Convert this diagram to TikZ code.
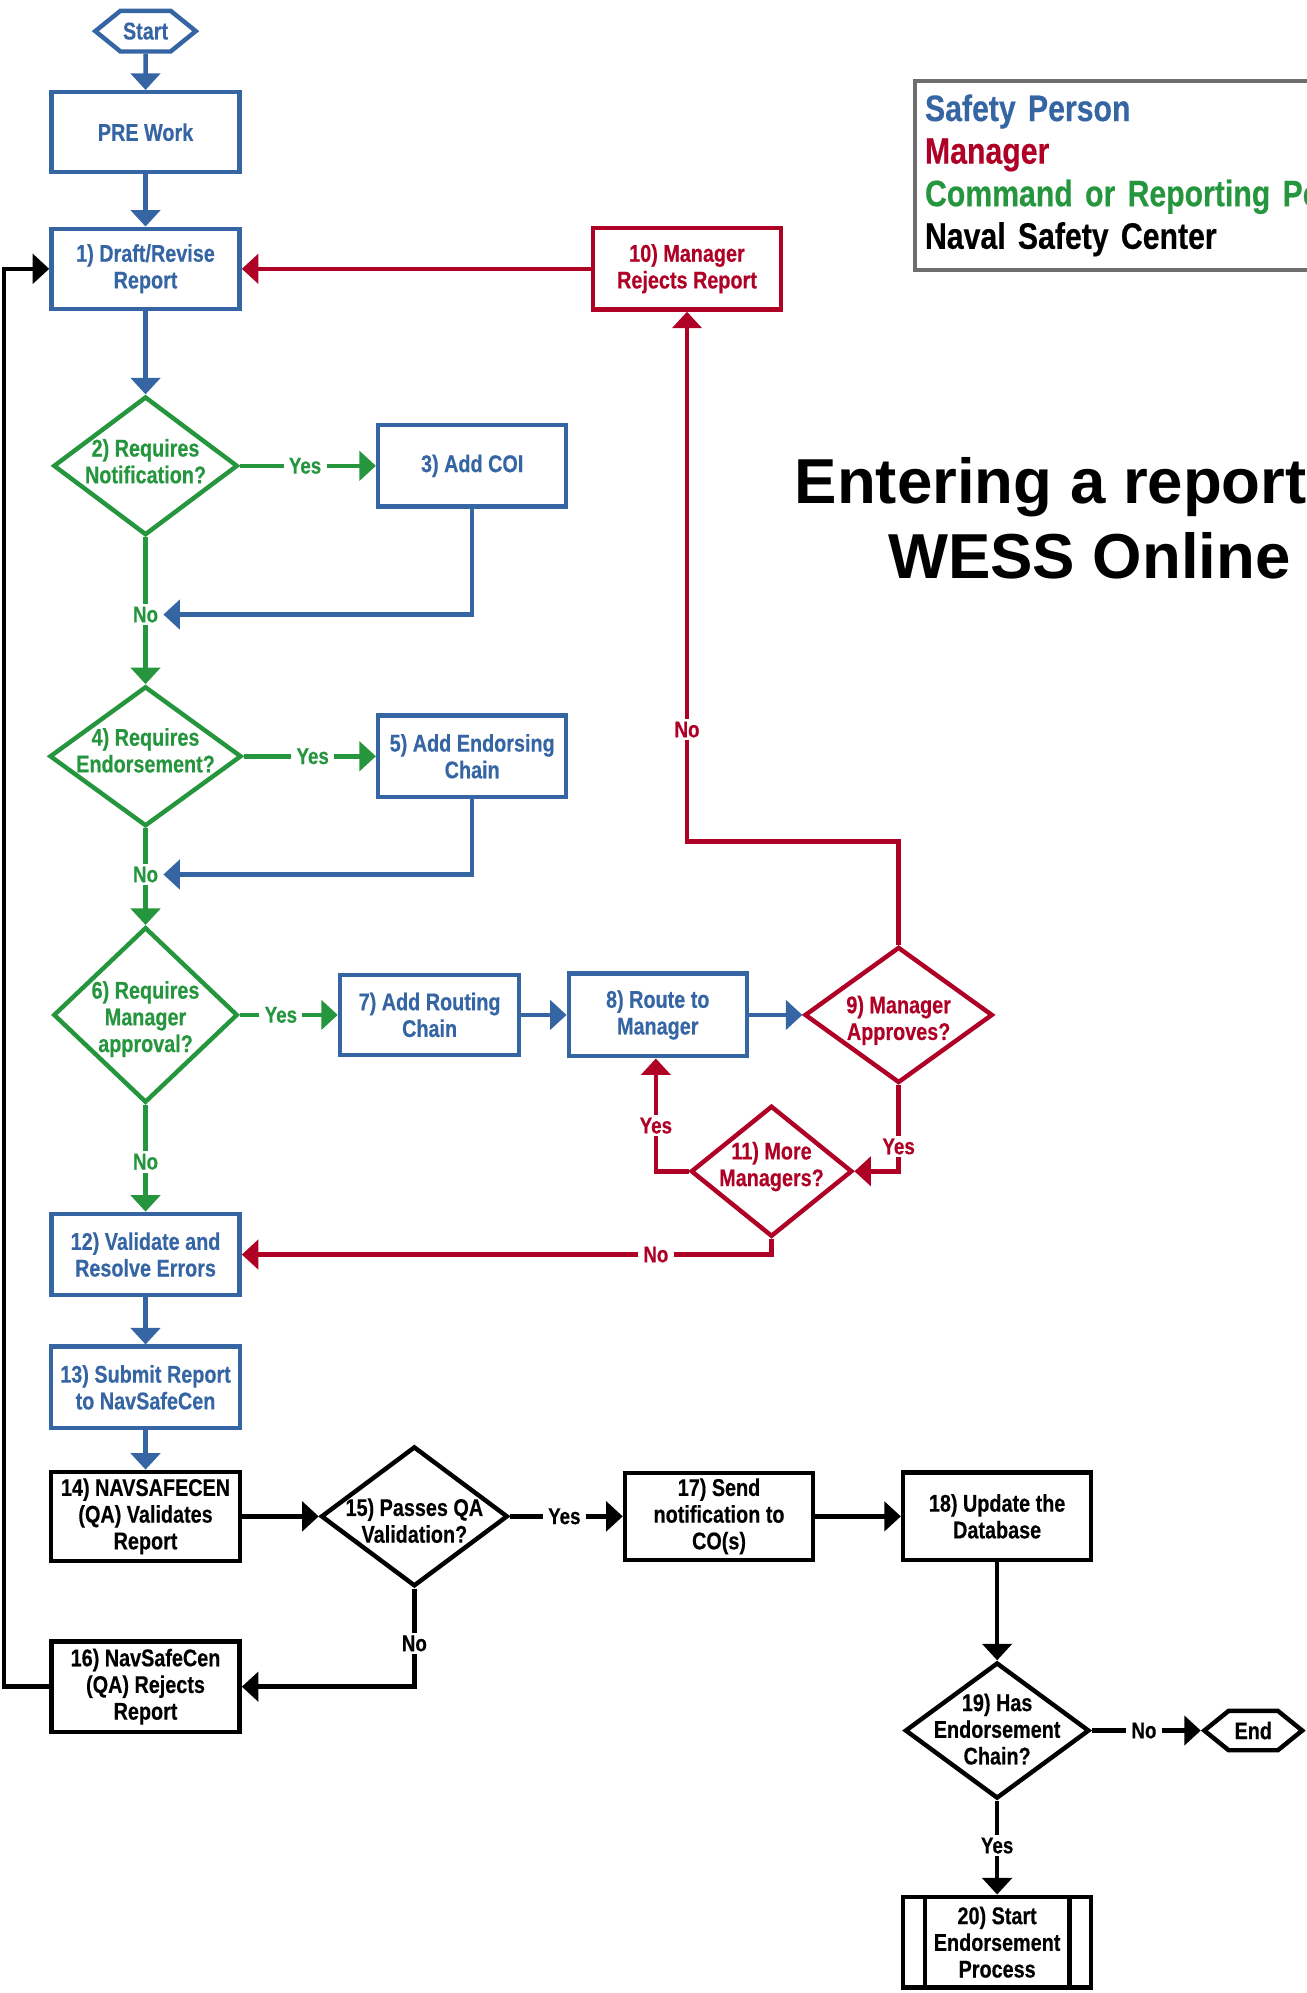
\documentclass[tikz,border=0pt]{standalone}
\usepackage{fontspec}
\setmainfont{Liberation Sans}
\newfontfamily\nf{Liberation Sans}[FakeStretch=0.82,FakeBold=0.4]
\usetikzlibrary{shapes.geometric,shapes.symbols,arrows.meta}
\definecolor{cblue}{RGB}{54,101,164}
\definecolor{cred}{RGB}{175,0,38}
\definecolor{cgreen}{RGB}{38,150,62}
\definecolor{cgray}{RGB}{110,110,110}
\newcommand{\dtxt}[2][0pt]{\makebox[0pt]{\raisebox{\dimexpr-7.3pt+#1\relax}[0pt][0pt]{\begin{tabular}{@{}c@{}}#2\end{tabular}}}}
\tikzset{
  basefont/.style={font=\nf\bfseries\fontsize{19}{21}\selectfont},
  box/.style={basefont, rectangle, draw, line width=3.5pt, align=center, inner sep=2pt, minimum width=148pt, minimum height=63pt},
  bbox/.style={box, draw=cblue, text=cblue},
  rbox/.style={box, draw=cred, text=cred},
  kbox/.style={box, draw=black, text=black},
  dia/.style={basefont, diamond, draw, line width=3.5pt, inner sep=0pt},
  gdia/.style={dia, draw=cgreen, text=cgreen},
  rdia/.style={dia, draw=cred, text=cred},
  kdia/.style={dia, draw=black, text=black},
  hexa/.style={basefont, shape=signal, signal to=west and east, signal pointer angle=78, draw, line width=3.5pt, inner sep=2pt},
  lbl/.style={font=\nf\bfseries\fontsize{18}{20}\selectfont, inner xsep=4pt, inner ysep=2pt},
  con/.style={line width=3.6pt},
  tip/.style={-{Triangle[width=23pt,length=13pt]}},
  bl/.style={con, draw=cblue},
  gl/.style={con, draw=cgreen},
  rl/.style={con, draw=cred},
  kl/.style={con, draw=black},
  bla/.style={bl, tip},
  gla/.style={gl, tip},
  rla/.style={rl, tip},
  kla/.style={kl, tip},
}
\begin{document}
\begin{tikzpicture}[x=1pt,y=-1pt]
\useasboundingbox (0,0) rectangle (1028,1568);

% ---- nodes ----
\node[hexa, draw=cblue, text=cblue, minimum width=78pt, minimum height=32pt] (start) at (114.5,24.5) {Start};
\node[bbox] (pre) at (114.5,104) {PRE Work};
\node[bbox] (b1) at (114.5,211.5) {1) Draft/Revise\\Report};
\node[gdia, minimum width=145pt, minimum height=109pt] (d2) at (114.5,366.5) {\dtxt[4pt]{2) Requires\\Notification?}};
\node[bbox, minimum height=64pt] (b3) at (371.5,366.5) {3) Add COI};
\node[lbl, text=cgreen] (y2) at (240,366.5) {Yes};
\node[lbl, text=cgreen] (no2) at (114.5,483.5) {No};
\node[gdia, minimum width=151pt, minimum height=110pt] (d4) at (114.5,595) {\dtxt[5pt]{4) Requires\\Endorsement?}};
\node[bbox, minimum height=64pt] (b5) at (371.5,595) {5) Add Endorsing\\Chain};
\node[lbl, text=cgreen] (y4) at (246,595) {Yes};
\node[lbl, text=cgreen] (no4) at (114.5,688) {No};
\node[gdia, minimum width=145pt, minimum height=138pt] (d6) at (114.5,798.5) {\dtxt[-1pt]{6) Requires\\Manager\\approval?}};
\node[lbl, text=cgreen] (y6) at (221,798.5) {Yes};
\node[bbox, minimum width=141pt] (b7) at (338,798.5) {7) Add Routing\\Chain};
\node[bbox, minimum width=140pt, minimum height=65pt] (b8) at (517.5,798.5) {8) Route to\\Manager};
\node[rdia, minimum width=148pt, minimum height=107pt] (d9) at (707,798.5) {\dtxt[-2pt]{9) Manager\\Approves?}};
\node[rbox, minimum height=64pt] (b10) at (540.5,211.5) {10) Manager\\Rejects Report};
\node[lbl, text=cred] (no9) at (540.5,574) {No};
\coordinate (r1) at (707,662);
\node[lbl, text=cred] (y9) at (707,902) {Yes};
\node[rdia, minimum width=127pt, minimum height=103pt] (d11) at (607,921.5) {\dtxt[6pt]{11) More\\Managers?}};
\node[lbl, text=cred] (y11) at (516,885.6) {Yes};
\node[lbl, text=cred] (no11) at (516,987) {No};
\node[lbl, text=cgreen] (no6) at (114.5,914) {No};
\node[bbox, minimum height=64pt] (b12) at (114.5,987) {12) Validate and\\Resolve Errors};
\node[bbox, minimum width=149pt, minimum height=64pt] (b13) at (114.5,1091.5) {13) Submit Report\\to NavSafeCen};
\node[kbox, minimum width=149pt, minimum height=70pt] (b14) at (114.5,1193) {14) NAVSAFECEN\\(QA) Validates\\Report};
\node[kdia, minimum width=147pt, minimum height=110pt] (d15) at (326,1193) {\dtxt[-3pt]{15) Passes QA\\Validation?}};
\node[lbl] (y15) at (444,1193) {Yes};
\node[kbox, minimum height=68.5pt] (b17) at (565.7,1193) {17) Send\\notification to\\CO(s)};
\node[kbox, minimum height=69pt] (b18) at (784.5,1193) {18) Update the\\Database};
\node[kdia, minimum width=145pt, minimum height=107pt] (d19) at (784.5,1361.5) {\dtxt[1.5pt]{19) Has\\Endorsement\\Chain?}};
\node[lbl] (no19) at (900,1361.5) {No};
\node[hexa, draw=black, text=black, minimum width=77pt, minimum height=31pt] (end) at (986,1361.5) {End};
\node[lbl] (y19) at (784.5,1452) {Yes};
\node[kbox, minimum height=71.5pt] (b20) at (784.5,1528) {20) Start\\Endorsement\\Process};
\node[lbl] (no15) at (326,1293) {No};
\node[kbox, minimum height=71pt] (b16) at (114.5,1327) {16) NavSafeCen\\(QA) Rejects\\Report};
\coordinate (lp) at (3,0);

% predefined-process side bars
\draw[line width=3.5pt] ([xshift=19pt]b20.north west) -- ([xshift=19pt]b20.south west);
\draw[line width=3.5pt] ([xshift=-19pt]b20.north east) -- ([xshift=-19pt]b20.south east);

% ---- legend and title ----
\node[draw=cgray, line width=3.5pt, anchor=west, text width=345pt, align=left, inner xsep=8pt, minimum height=148.5pt, font=\nf\bfseries\fontsize{29}{33.5}\selectfont] (legend) at (718,138)
  {\textcolor{cblue}{Safety Person}\\\textcolor{cred}{Manager}\\\textcolor{cgreen}{Command or Reporting Po}\\Naval Safety Center};
\node[font=\bfseries\fontsize{50}{58}\selectfont, anchor=base west, inner sep=0pt] (t1) at (625,396) {Entering a report};
\node[font=\bfseries\fontsize{50}{58}\selectfont, anchor=base, inner sep=0pt] (t2) at (857,455) {WESS Online};

% ---- connectors ----
\draw[bla] (start) -- (pre);
\draw[bla] (pre) -- (b1);
\draw[bla] (b1) -- (d2.north);
\draw[gl] (d2.east) -- (y2);
\draw[gla] (y2) -- (b3.west);
\draw[gl] (d2.south) -- (no2);
\draw[bla] (b3.south) |- (no2.east);
\draw[gla] (no2) -- (d4.north);
\draw[gl] (d4.east) -- (y4);
\draw[gla] (y4) -- (b5.west);
\draw[gl] (d4.south) -- (no4);
\draw[bla] (b5.south) |- (no4.east);
\draw[gla] (no4) -- (d6.north);
\draw[gl] (d6.east) -- (y6);
\draw[gla] (y6) -- (b7.west);
\draw[bla] (b7) -- (b8);
\draw[bla] (b8.east) -- (d9.west);
\draw[rl] (d9.north) -- (r1) -| (no9);
\draw[rla] (no9) -- (b10.south);
\draw[rla] (b10.west) -- (b1.east);
\draw[rl] (d9.south) -- (y9);
\draw[rla] (y9) |- (d11.east);
\draw[rl] (d11.west) -| (y11);
\draw[rla] (y11) -- (y11 |- b8.south);
\draw[rl] (d11.south) |- (no11);
\draw[rla] (no11) -- (b12.east);
\draw[gl] (d6.south) -- (no6);
\draw[gla] (no6) -- (b12.north);
\draw[bla] (b12) -- (b13);
\draw[bla] (b13) -- (b14);
\draw[kla] (b14.east) -- (d15.west);
\draw[kl] (d15.east) -- (y15);
\draw[kla] (y15) -- (b17.west);
\draw[kla] (b17) -- (b18);
\draw[kla] (b18) -- (d19.north);
\draw[kl] (d19.east) -- (no19);
\draw[kla] (no19) -- (end.west);
\draw[kl] (d19.south) -- (y19);
\draw[kla] (y19) -- (b20.north);
\draw[kl] (d15.south) -- (no15);
\draw[kla] (no15) |- (b16.east);
\draw[kla] (b16.west) -- (b16.west -| lp) |- (b1.west);
\end{tikzpicture}
\end{document}
